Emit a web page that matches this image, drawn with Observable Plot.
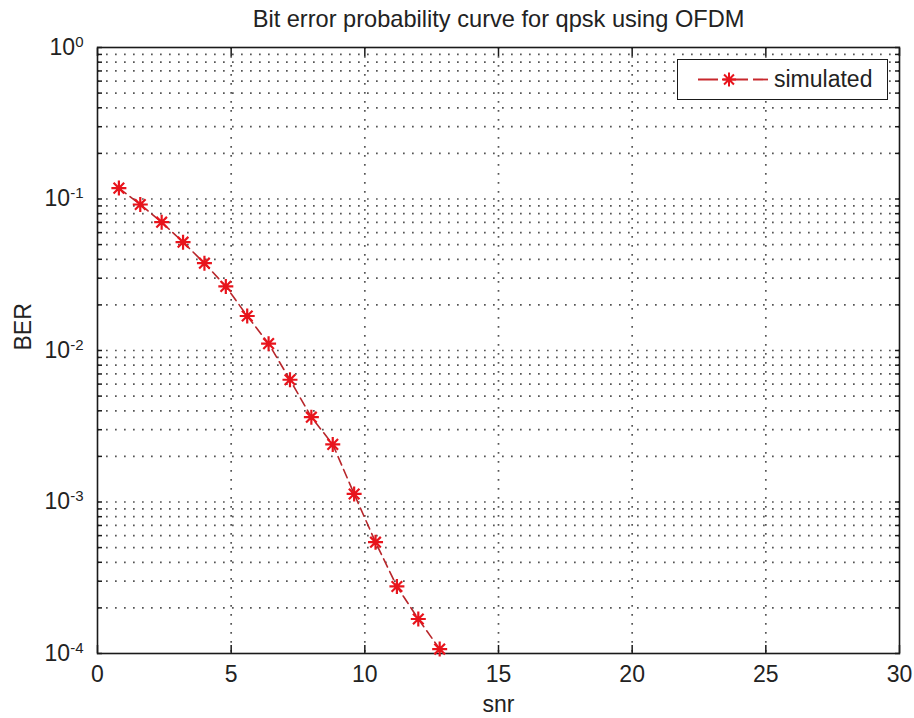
<!DOCTYPE html>
<html>
<head>
<meta charset="utf-8">
<script src="https://cdn.jsdelivr.net/npm/d3@7"></script>
<script src="https://cdn.jsdelivr.net/npm/@observablehq/plot@0.6"></script>
<style>
  html, body { margin: 0; padding: 0; background: #fff; }
  #wrap { position: relative; width: 914px; height: 718px; font-family: "Liberation Sans", Arial, Helvetica, sans-serif; }
  #legend { position: absolute; left: 677px; top: 59px; width: 209px; height: 39px; border: 1.5px solid #1a1a1a; background: #fff; }
  #legend svg { position: absolute; left: 0; top: 0; }
  #legend span { position: absolute; left: 96px; top: 6px; font-size: 23px; color: #222; }
</style>
</head>
<body>
<div id="wrap"></div>
<script>
// ---- data ----
const snr = [0.8, 1.6, 2.4, 3.2, 4.0, 4.8, 5.6, 6.4, 7.2, 8.0, 8.8, 9.6, 10.4, 11.2, 12.0, 12.8];
const ber = [0.118, 0.092, 0.0703, 0.0519, 0.0377, 0.0265, 0.0169, 0.0111, 0.00641, 0.00363, 0.00240, 0.00113, 0.000543, 0.000277, 0.000169, 0.000107];
const xTicks = [0, 5, 10, 15, 20, 25, 30];
const yMajorTicks = [1, 0.1, 0.01, 0.001, 0.0001];
const yDecades = [-4, -3, -2, -1];
const yMinorMultipliers = [2, 3, 4, 5, 6, 7, 8, 9];
const titleText = "Bit error probability curve for qpsk using OFDM";
const xLabel = "snr";
const yLabel = "BER";
const seriesName = "simulated";

const data = snr.map((s, i) => ({snr: s, ber: ber[i]}));
const yAllTicks = [];
yDecades.forEach(k => { yAllTicks.push(Math.pow(10, k)); yMinorMultipliers.forEach(m => yAllTicks.push(m * Math.pow(10, k))); });
yAllTicks.push(1);
const yGridTicks = yAllTicks.filter(v => v > 0.0001 && v < 1);
const xGridTicks = xTicks.filter(v => v > 0 && v < 30);

// MATLAB-style '*' marker (8 arms)
const star8 = {
  draw(context, size) {
    const r = Math.sqrt(size / Math.PI);
    const d = r * Math.SQRT1_2;
    context.moveTo(-r, 0); context.lineTo(r, 0);
    context.moveTo(0, -r); context.lineTo(0, r);
    context.moveTo(-d, -d); context.lineTo(d, d);
    context.moveTo(-d, d); context.lineTo(d, -d);
  }
};

const FS = 23;
const gridStyle = {stroke: "#555", strokeOpacity: 1, strokeWidth: 1.7, strokeDasharray: "1.7,7.3"};

const chart = Plot.plot({
  width: 914,
  height: 718,
  marginLeft: 97,
  marginRight: 15,
  marginTop: 47,
  marginBottom: 65,
  style: {fontFamily: "'Liberation Sans', Arial, Helvetica, sans-serif", fontSize: FS + "px", color: "#222", background: "#fff"},
  x: {domain: [0, 30]},
  y: {type: "log", domain: [0.0001, 1]},
  marks: [
    Plot.gridY(yGridTicks, gridStyle),
    Plot.gridX(xGridTicks, gridStyle),
    Plot.axisY(yAllTicks, {anchor: "left", tickSize: -5, tickFormat: () => "", label: null, stroke: "#1a1a1a", strokeWidth: 1.5}),
    Plot.axisY(yAllTicks, {anchor: "right", tickSize: -5, tickFormat: () => "", label: null, stroke: "#1a1a1a", strokeWidth: 1.5}),
    Plot.axisX(xTicks, {anchor: "top", tickSize: -8, tickFormat: () => "", label: null, stroke: "#1a1a1a", strokeWidth: 1.5}),
    Plot.axisX(xTicks, {anchor: "bottom", tickSize: -8, tickFormat: () => "", label: null, stroke: "#1a1a1a", strokeWidth: 1.5}),
    Plot.axisX(xTicks, {anchor: "bottom", tickSize: 0, tickPadding: 12, label: null, fontSize: FS, fill: "#222"}),
    Plot.axisY(yMajorTicks, {anchor: "left", tickSize: 0, tickPadding: 14, label: null, fontSize: FS, fill: "#222",
      tickFormat: d => "10^" + Math.round(Math.log10(d))}),
    Plot.frame({stroke: "#1a1a1a", strokeWidth: 1.6}),
    Plot.line(data, {x: "snr", y: "ber", stroke: "#b8262b", strokeWidth: 1.6, strokeDasharray: "9,5"}),
    Plot.dot(data, {x: "snr", y: "ber", symbol: star8, r: 7.5, fill: "none", stroke: "#e8141c", strokeWidth: 2.2}),
    Plot.text([titleText], {frameAnchor: "top", lineAnchor: "middle", dy: -28.5, fontSize: 23.6, fill: "#222"}),
    Plot.text([xLabel], {frameAnchor: "bottom", lineAnchor: "middle", dy: 51, fontSize: FS, fill: "#222"}),
    Plot.text([yLabel], {frameAnchor: "left", dx: -74, rotate: -90, fontSize: FS, fill: "#222"})
  ]
});

// superscript exponents on y tick labels
d3.select(chart).selectAll('g[aria-label="y-axis tick label"] text').each(function() {
  const t = this.textContent;
  const m = /^10\^(-?\d+)$/.exec(t);
  if (!m) return;
  const sel = d3.select(this);
  sel.text("");
  sel.append("tspan").text("10");
  sel.append("tspan").attr("dy", "-0.55em").attr("font-size", "15px").text(m[1]);
});

const wrap = document.getElementById("wrap");
wrap.appendChild(chart);

// legend overlay
const legend = document.createElement("div");
legend.id = "legend";
legend.innerHTML = `<svg width="209" height="39">
  <line x1="20" y1="19.5" x2="90" y2="19.5" stroke="#c8282d" stroke-width="1.8" stroke-dasharray="20,5,25,5"></line>
  ${[0].map(() => {
    const r = 7, d = r * Math.SQRT1_2, cx = 51, cy = 19.5;
    return `<path d="M${cx - r},${cy}L${cx + r},${cy}M${cx},${cy - r}L${cx},${cy + r}M${cx - d},${cy - d}L${cx + d},${cy + d}M${cx - d},${cy + d}L${cx + d},${cy - d}" stroke="#e8141c" stroke-width="2" fill="none"></path>`;
  }).join("")}
</svg><span>${seriesName}</span>`;
wrap.appendChild(legend);
</script>
</body>
</html>
